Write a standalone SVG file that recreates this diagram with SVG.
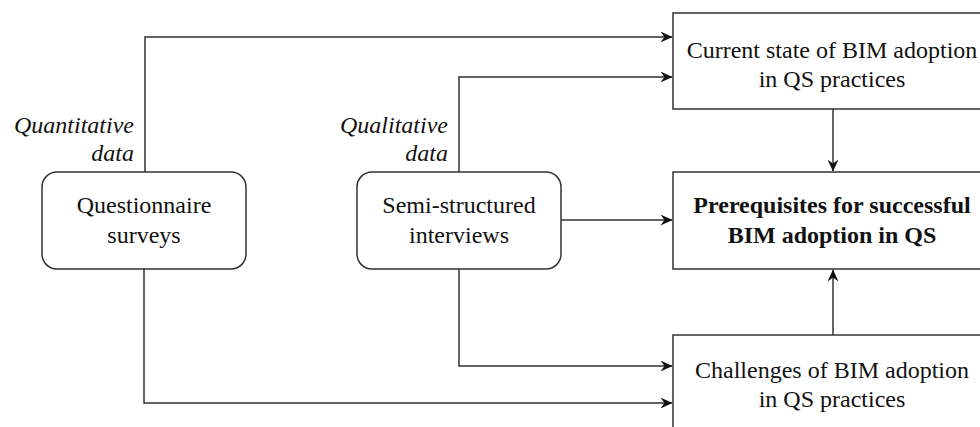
<svg xmlns="http://www.w3.org/2000/svg" width="980" height="427" viewBox="0 0 980 427">
  <style>
    .box { fill: #ffffff; stroke: #333333; stroke-width: 1.5; }
    .edge { fill: none; stroke: #333333; stroke-width: 1.5; }
    .t { font-family: "Liberation Serif", "Times New Roman", serif; font-size: 24px; fill: #111111; text-anchor: middle; }
    .b { font-weight: bold; }
    .lbl { font-family: "Liberation Serif", "Times New Roman", serif; font-size: 24px; font-style: italic; fill: #111111; text-anchor: end; }
  </style>
  <defs>
    <marker id="arrow" viewBox="0 0 12 11" refX="11.5" refY="5.5" markerWidth="12" markerHeight="11" markerUnits="userSpaceOnUse" orient="auto">
      <path d="M0,0 L12,5.5 L0,11 L4,5.5 Z" fill="#111111"/>
    </marker>
  </defs>
  <rect width="980" height="427" fill="#ffffff"/>

  <g id="connectors">
    <path class="edge" d="M145,172 V37 H672" marker-end="url(#arrow)"/>
    <path class="edge" d="M459,172 V77 H672" marker-end="url(#arrow)"/>
    <path class="edge" d="M561,220 H672" marker-end="url(#arrow)"/>
    <path class="edge" d="M459,269 V366 H672" marker-end="url(#arrow)"/>
    <path class="edge" d="M144,269 V403 H672" marker-end="url(#arrow)"/>
    <path class="edge" d="M833,109 V171" marker-end="url(#arrow)"/>
    <path class="edge" d="M833,335 V270" marker-end="url(#arrow)"/>
  </g>

  <g id="questionnaire">
    <rect class="box" x="42" y="172" width="204" height="97" rx="15" ry="15"/>
    <text class="t" x="144" y="213">Questionnaire</text>
    <text class="t" x="144" y="243">surveys</text>
  </g>

  <g id="interviews">
    <rect class="box" x="357" y="172" width="204" height="97" rx="15" ry="15"/>
    <text class="t" x="459" y="213">Semi-structured</text>
    <text class="t" x="459" y="243">interviews</text>
  </g>

  <g id="label-quantitative">
    <text class="lbl" x="134" y="133">Quantitative</text>
    <text class="lbl" x="134" y="161">data</text>
  </g>

  <g id="label-qualitative">
    <text class="lbl" x="448" y="133">Qualitative</text>
    <text class="lbl" x="448" y="161">data</text>
  </g>

  <g id="current-state">
    <rect class="box" x="673" y="13" width="330" height="96"/>
    <text class="t" x="832" y="58">Current state of BIM adoption</text>
    <text class="t" x="832" y="87">in QS practices</text>
  </g>

  <g id="prerequisites">
    <rect class="box" x="673" y="172" width="330" height="97"/>
    <text class="t b" x="832" y="213">Prerequisites for successful</text>
    <text class="t b" x="832" y="243">BIM adoption in QS</text>
  </g>

  <g id="challenges">
    <rect class="box" x="673" y="335" width="330" height="110"/>
    <text class="t" x="832" y="378">Challenges of BIM adoption</text>
    <text class="t" x="832" y="407">in QS practices</text>
  </g>
</svg>
